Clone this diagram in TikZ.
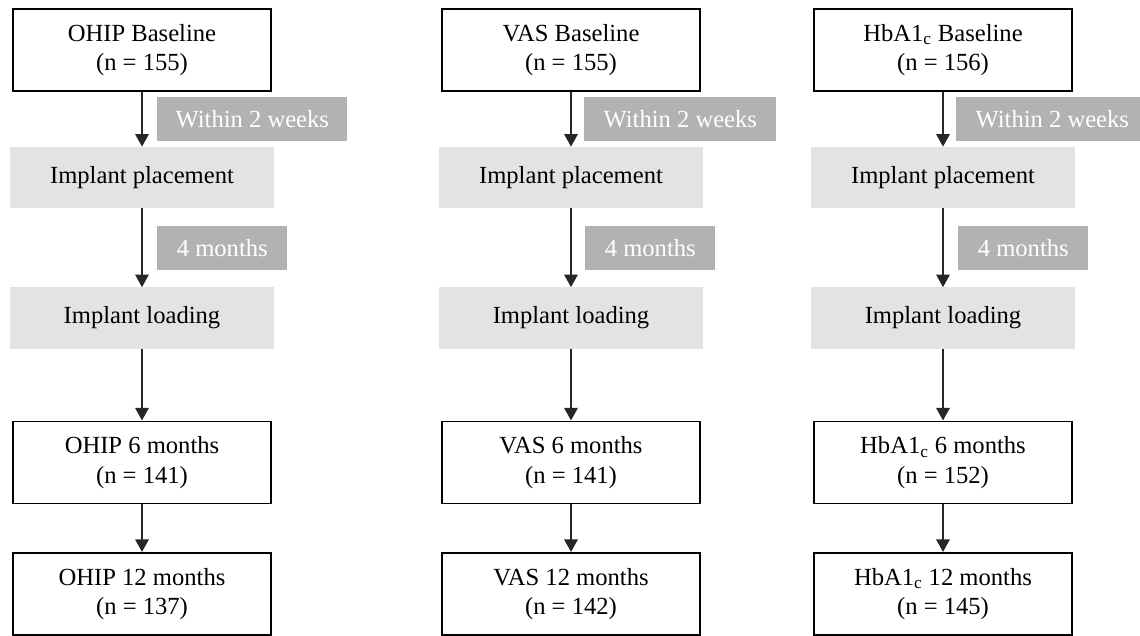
\documentclass[tikz,border=0pt]{standalone}
\usepackage{fontspec}
\setmainfont{Liberation Serif}
\usepackage{xcolor}
\usetikzlibrary{arrows.meta}
\usetikzlibrary{positioning}

\definecolor{stagegray}{RGB}{227,227,227}
\definecolor{laggray}{RGB}{178,178,178}

\tikzset{
  txt/.style={font=\fontsize{17.5}{21}\selectfont},
  measure/.style={txt, draw=black, line width=1.4pt, fill=white, align=center,
    minimum width=6.45cm, minimum height=2.05cm},
  stage/.style={txt, fill=stagegray, minimum width=6.575cm, minimum height=1.525cm},
  lag/.style={txt, fill=laggray, text=white, anchor=west, minimum height=1.1cm},
  flow/.style={->, line width=1.6pt, draw=black!85},
  >={Triangle[width=9.5pt,length=9pt]}
}

\begin{document}
\begin{tikzpicture}[x=0.025cm, y=-0.025cm]
      \useasboundingbox (0,0) rectangle (1140,636);

      % OHIP
      \node[measure] (ohip0) at (142,50) {OHIP Baseline\\(n = 155)};
      \node[stage] (place1) at (142,177.5) {Implant placement};
      \node[stage] (load1) at (142,318) {Implant loading};
      \node[measure] (ohip6) at (142,462.5) {OHIP 6 months\\(n = 141)};
      \node[measure] (ohip12) at (142,594) {OHIP 12 months\\(n = 137)};
      \node[lag, minimum width=4.75cm] (wait1) at (157,119) {Within 2 weeks};
      \node[lag, minimum width=3.25cm] (heal1) at (157,248) {4 months};

      \draw[flow] (ohip0) -- (place1);
      \draw[flow] (place1) -- (load1);
      \draw[flow] (load1) -- (ohip6);
      \draw[flow] (ohip6) -- (ohip12);

      % VAS
      \node[measure] (vas0) at (571,50) {VAS Baseline\\(n = 155)};
      \node[stage] (place2) at (571,177.5) {Implant placement};
      \node[stage] (load2) at (571,318) {Implant loading};
      \node[measure] (vas6) at (571,462.5) {VAS 6 months\\(n = 141)};
      \node[measure] (vas12) at (571,594) {VAS 12 months\\(n = 142)};
      \node[lag, minimum width=4.8cm] (wait2) at (584,119) {Within 2 weeks};
      \node[lag, minimum width=3.25cm] (heal2) at (585,248) {4 months};

      \draw[flow] (vas0) -- (place2);
      \draw[flow] (place2) -- (load2);
      \draw[flow] (load2) -- (vas6);
      \draw[flow] (vas6) -- (vas12);

      % HbA1c
      \node[measure] (hba0) at (943,50) {HbA1\textsubscript{c} Baseline\\(n = 156)};
      \node[stage] (place3) at (943,177.5) {Implant placement};
      \node[stage] (load3) at (943,318) {Implant loading};
      \node[measure] (hba6) at (943,462.5) {HbA1\textsubscript{c} 6 months\\(n = 152)};
      \node[measure] (hba12) at (943,594) {HbA1\textsubscript{c} 12 months\\(n = 145)};
      \node[lag, minimum width=4.8cm] (wait3) at (956,119) {Within 2 weeks};
      \node[lag, minimum width=3.25cm] (heal3) at (958,248) {4 months};

      \draw[flow] (hba0) -- (place3);
      \draw[flow] (place3) -- (load3);
      \draw[flow] (load3) -- (hba6);
      \draw[flow] (hba6) -- (hba12);
\end{tikzpicture}
\end{document}
